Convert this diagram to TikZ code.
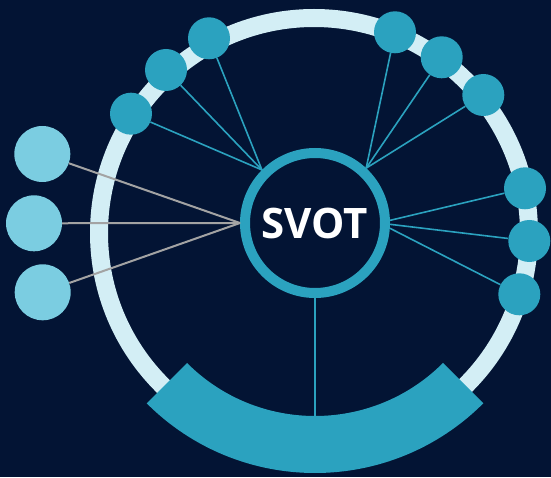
\documentclass[tikz,border=0pt]{standalone}
\usepackage{fontspec}
\setmainfont{Open Sans}
\definecolor{bgnavy}{HTML}{031434}
\definecolor{ringlight}{HTML}{D3EEF5}
\definecolor{tealc}{HTML}{2BA2BF}
\definecolor{lightc}{HTML}{7BCDE1}
\definecolor{grayline}{HTML}{A3A3A3}
\tikzset{
  sat/.style={circle, fill=tealc, minimum size=42pt, inner sep=0pt},
  leftball/.style={circle, fill=lightc, minimum size=56pt, inner sep=0pt},
  blueline/.style={draw=tealc, line width=1.6pt},
  grayconn/.style={draw=grayline, line width=2pt},
}
\begin{document}
\begin{tikzpicture}[x=1pt,y=1pt]
\fill[bgnavy] (0,0) rectangle (551,477);
\useasboundingbox (0,0) rectangle (551,477);
% big ring
\coordinate (rc) at (314,244);
\draw[ringlight, line width=18pt] (rc) circle[radius=215];
% band
\coordinate (bc) at (315,242);
\fill[tealc] ([shift={(225:238)}]bc) arc[start angle=225,end angle=315,radius=238]
  -- ([shift={(315:181)}]bc) arc[start angle=315,end angle=225,radius=181] -- cycle;
\coordinate (bandtop) at (315,61);
% center
\node[circle, draw=tealc, line width=10pt, fill=bgnavy, minimum size=140pt, inner sep=0pt,
  text=white, font=\bfseries\fontsize{42}{50}\selectfont] (svot) at (315,254) {SVOT};
% satellites
\node[sat] (s1) at (131,363.3) {};
\node[sat] (s2) at (166,407) {};
\node[sat] (s3) at (209,438.7) {};
\node[sat] (s4) at (395,444.7) {};
\node[sat] (s5) at (441.7,419.7) {};
\node[sat] (s6) at (483.3,382) {};
\node[sat] (s7) at (525,288.7) {};
\node[sat] (s8) at (529.3,236) {};
\node[sat] (s9) at (519.3,182.7) {};
% left balls
\node[leftball] (l1) at (42.3,323) {};
\node[leftball] (l2) at (34,253.7) {};
\node[leftball] (l3) at (42.7,184.7) {};
% connectors
\foreach \s in {s1,s2,s3} \draw[blueline] (\s) -- (svot.135);
\foreach \s in {s4,s5,s6} \draw[blueline] (\s) -- (svot.47);
\draw[blueline] (s7) -- (svot.2);
\draw[blueline] (s8) -- (svot.-1);
\draw[blueline] (s9) -- (svot.-4);
\draw[blueline] (svot.south) -- (bandtop);
\foreach \l in {l1,l2,l3} \draw[grayconn] (\l) -- (svot.west);
\end{tikzpicture}
\end{document}
